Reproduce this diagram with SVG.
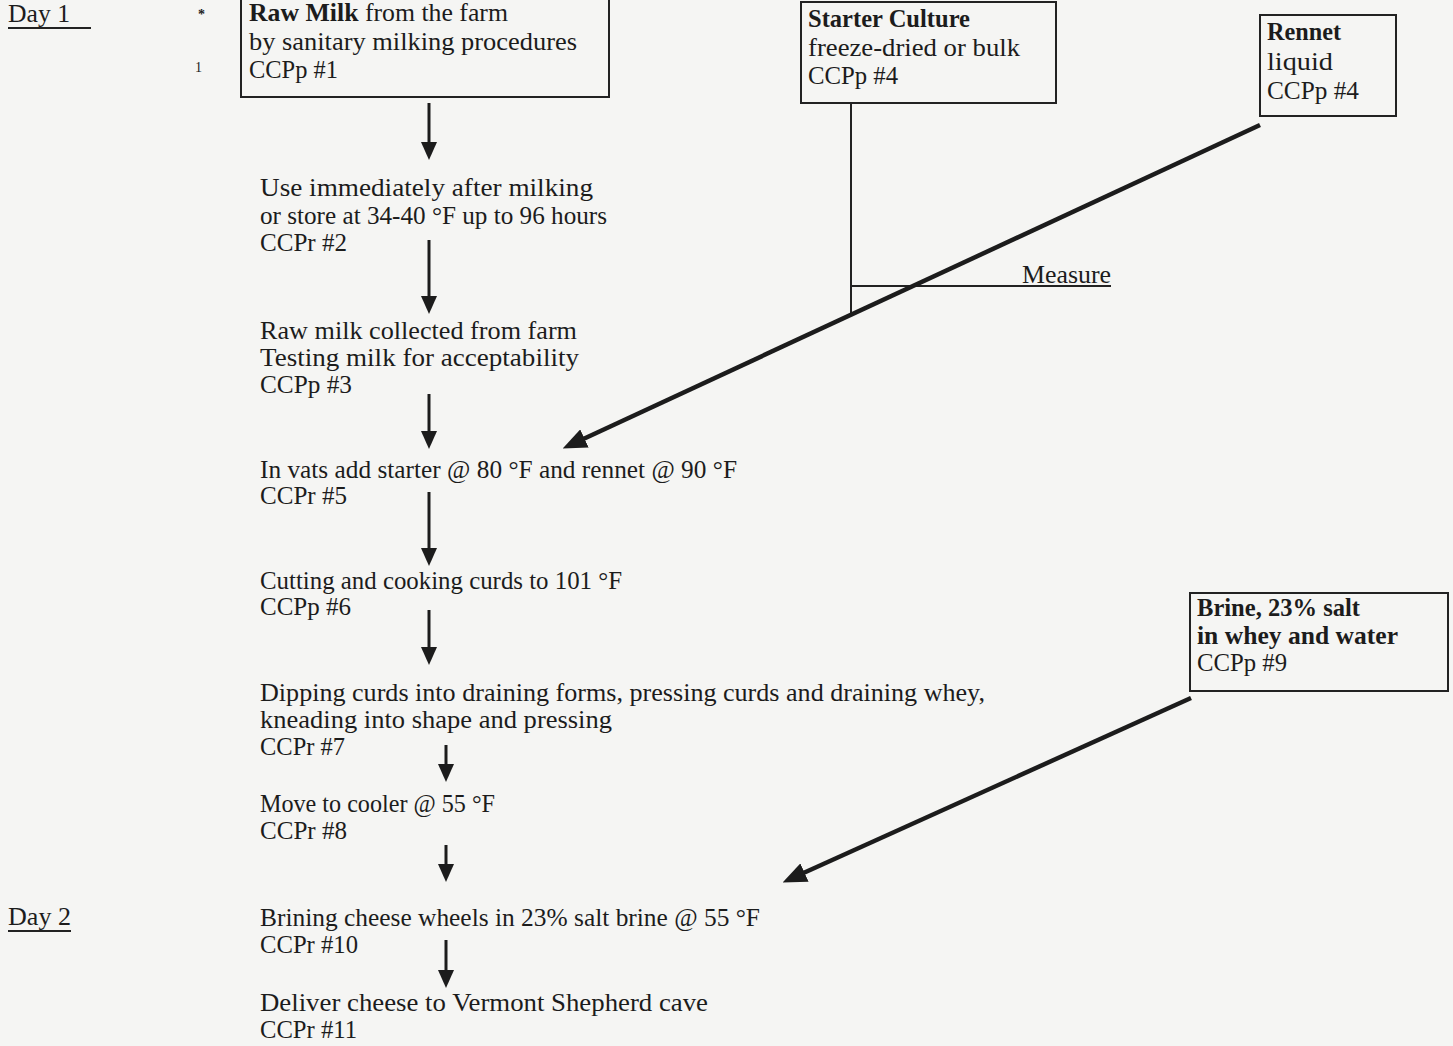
<svg xmlns="http://www.w3.org/2000/svg" width="1453" height="1046" viewBox="0 0 1453 1046">
<style>
.t{font-family:"Liberation Serif","DejaVu Serif",serif;font-size:25px;fill:#1c1c1c}
.b{font-weight:bold}
.sm{font-size:14px}
.box{fill:none;stroke:#222;stroke-width:2}
.ln{stroke:#222;stroke-width:2;fill:none}
.ar{stroke:#1c1c1c;stroke-width:3;fill:none}
.ard{stroke:#1c1c1c;stroke-width:4.5;fill:none}
</style>
<defs>
<marker id="ah" markerUnits="userSpaceOnUse" markerWidth="18" markerHeight="16" refX="4" refY="8" orient="auto">
<path d="M0,0 L18,8 L0,16 z" fill="#1c1c1c"/>
</marker>
<marker id="ahd" markerUnits="userSpaceOnUse" markerWidth="24" markerHeight="20" refX="6" refY="10" orient="auto">
<path d="M0,0 L24,10 L0,20 z" fill="#1c1c1c"/>
</marker>
</defs>
<rect width="1453" height="1046" fill="#f5f5f3"/>

<g id="day1">
<text class="t" x="8" y="22" textLength="62" lengthAdjust="spacingAndGlyphs">Day 1</text>
<line class="ln" x1="8" y1="28" x2="91" y2="28" stroke-width="1.5"/>
<text class="t sm" x="198" y="19" font-weight="bold">*</text>
<text class="t sm" x="195" y="72">1</text>
</g>
<g id="day2">
<text class="t" x="8" y="925" textLength="63" lengthAdjust="spacingAndGlyphs">Day 2</text>
<line class="ln" x1="8" y1="931" x2="71" y2="931" stroke-width="1.5"/>
</g>

<g id="n1">
<rect class="box" x="241" y="-2" width="368" height="99"/>
<text class="t" x="249" y="21" textLength="259" lengthAdjust="spacingAndGlyphs"><tspan class="b">Raw Milk</tspan> from the farm</text>
<text class="t" x="249" y="50" textLength="328" lengthAdjust="spacingAndGlyphs">by sanitary milking procedures</text>
<text class="t" x="249" y="78" textLength="89" lengthAdjust="spacingAndGlyphs">CCPp #1</text>
</g>

<g id="n2">
<text class="t" x="260" y="196" textLength="333" lengthAdjust="spacingAndGlyphs">Use immediately after milking</text>
<text class="t" x="260" y="224" textLength="347" lengthAdjust="spacingAndGlyphs">or store at 34-40 °F up to 96 hours</text>
<text class="t" x="260" y="251" textLength="87" lengthAdjust="spacingAndGlyphs">CCPr #2</text>
</g>

<g id="n3">
<text class="t" x="260" y="339" textLength="317" lengthAdjust="spacingAndGlyphs">Raw milk collected from farm</text>
<text class="t" x="260" y="366" textLength="319" lengthAdjust="spacingAndGlyphs">Testing milk for acceptability</text>
<text class="t" x="260" y="393" textLength="92" lengthAdjust="spacingAndGlyphs">CCPp #3</text>
</g>

<g id="n4">
<text class="t" x="260" y="478" textLength="477" lengthAdjust="spacingAndGlyphs">In vats add starter @ 80 °F and rennet @ 90 °F</text>
<text class="t" x="260" y="504" textLength="87" lengthAdjust="spacingAndGlyphs">CCPr #5</text>
</g>

<g id="n5">
<text class="t" x="260" y="589" textLength="362" lengthAdjust="spacingAndGlyphs">Cutting and cooking curds to 101 °F</text>
<text class="t" x="260" y="615" textLength="91" lengthAdjust="spacingAndGlyphs">CCPp #6</text>
</g>

<g id="n6">
<text class="t" x="260" y="701" textLength="725" lengthAdjust="spacingAndGlyphs">Dipping curds into draining forms, pressing curds and draining whey,</text>
<text class="t" x="260" y="728" textLength="352" lengthAdjust="spacingAndGlyphs">kneading into shape and pressing</text>
<text class="t" x="260" y="755" textLength="85" lengthAdjust="spacingAndGlyphs">CCPr #7</text>
</g>

<g id="n7">
<text class="t" x="260" y="812" textLength="235" lengthAdjust="spacingAndGlyphs">Move to cooler @ 55 °F</text>
<text class="t" x="260" y="839" textLength="87" lengthAdjust="spacingAndGlyphs">CCPr #8</text>
</g>

<g id="n8">
<text class="t" x="260" y="926" textLength="500" lengthAdjust="spacingAndGlyphs">Brining cheese wheels in 23% salt brine @ 55 °F</text>
<text class="t" x="260" y="953" textLength="98" lengthAdjust="spacingAndGlyphs">CCPr #10</text>
</g>

<g id="n9">
<text class="t" x="260" y="1011" textLength="448" lengthAdjust="spacingAndGlyphs">Deliver cheese to Vermont Shepherd cave</text>
<text class="t" x="260" y="1038" textLength="97" lengthAdjust="spacingAndGlyphs">CCPr #11</text>
</g>

<g id="starter">
<rect class="box" x="801" y="2" width="255" height="101"/>
<text class="t b" x="808" y="27" textLength="162" lengthAdjust="spacingAndGlyphs">Starter Culture</text>
<text class="t" x="808" y="56" textLength="212" lengthAdjust="spacingAndGlyphs">freeze-dried or bulk</text>
<text class="t" x="808" y="84" textLength="90" lengthAdjust="spacingAndGlyphs">CCPp #4</text>
</g>

<g id="rennet">
<rect class="box" x="1260" y="15" width="136" height="101"/>
<text class="t b" x="1267" y="40" textLength="74" lengthAdjust="spacingAndGlyphs">Rennet</text>
<text class="t" x="1267" y="70" textLength="66" lengthAdjust="spacingAndGlyphs">liquid</text>
<text class="t" x="1267" y="99" textLength="92" lengthAdjust="spacingAndGlyphs">CCPp #4</text>
</g>

<g id="brine">
<rect class="box" x="1190" y="593" width="258" height="98"/>
<text class="t b" x="1197" y="616" textLength="163" lengthAdjust="spacingAndGlyphs">Brine, 23% salt</text>
<text class="t b" x="1197" y="644" textLength="201" lengthAdjust="spacingAndGlyphs">in whey and water</text>
<text class="t" x="1197" y="671" textLength="90" lengthAdjust="spacingAndGlyphs">CCPp #9</text>
</g>

<g id="measure">
<text class="t" x="1022" y="283" textLength="89" lengthAdjust="spacingAndGlyphs">Measure</text>
</g>

<g id="connectors">
<line class="ar" x1="429" y1="103" x2="429" y2="146" marker-end="url(#ah)"/>
<line class="ar" x1="429" y1="240" x2="429" y2="300" marker-end="url(#ah)"/>
<line class="ar" x1="429" y1="394" x2="429" y2="435" marker-end="url(#ah)"/>
<line class="ar" x1="429" y1="492" x2="429" y2="552" marker-end="url(#ah)"/>
<line class="ar" x1="429" y1="610" x2="429" y2="651" marker-end="url(#ah)"/>
<line class="ar" x1="446" y1="745" x2="446" y2="768" marker-end="url(#ah)"/>
<line class="ar" x1="446" y1="845" x2="446" y2="868" marker-end="url(#ah)"/>
<line class="ar" x1="446" y1="940" x2="446" y2="974" marker-end="url(#ah)"/>
<line class="ln" x1="851" y1="103" x2="851" y2="314"/>
<line class="ln" x1="851" y1="286" x2="1111" y2="286"/>
<line class="ard" x1="1260" y1="125" x2="579" y2="441" marker-end="url(#ahd)"/>
<line class="ard" x1="1191" y1="698" x2="799" y2="875" marker-end="url(#ahd)"/>
</g>
</svg>
